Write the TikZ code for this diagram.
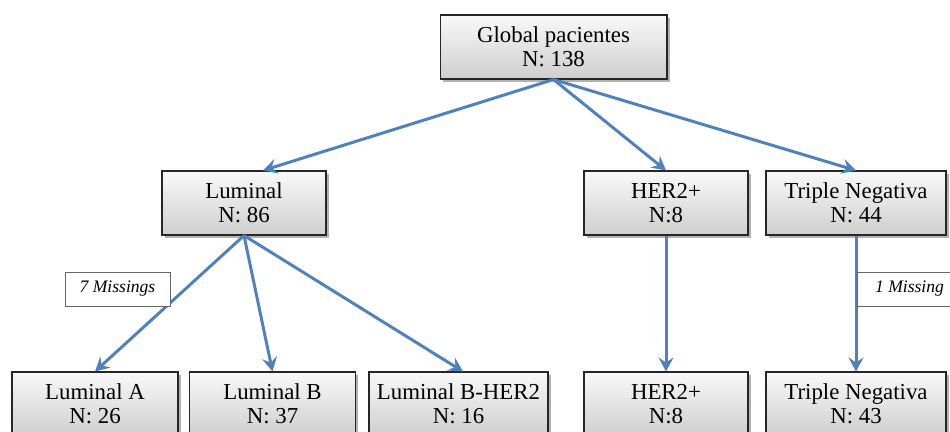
\documentclass[tikz,border=0pt]{standalone}
\usepackage{fontspec}
\setmainfont{Liberation Serif}
\usetikzlibrary{arrows.meta,shadows}
\definecolor{arrowblue}{RGB}{79,129,189}

\begin{document}
\begin{tikzpicture}[x=0.02cm,y=-0.02cm]
  \tikzstyle{group}=[draw=black!85,line width=0.6pt,top color=gray!5,bottom color=gray!38,minimum height=1.28cm,align=center,font=\fontsize{13}{13.6}\selectfont,drop shadow={shadow xshift=1.5pt,shadow yshift=-1.5pt,fill=black!60}]
  \tikzstyle{missing}=[draw=black!60,line width=0.4pt,fill=white,minimum width=2.1cm,minimum height=0.68cm,font=\fontsize{10}{12}\selectfont\itshape]
  \tikzstyle{link}=[arrowblue,line width=1.7pt,-{Stealth[length=0.28cm,width=0.3cm,inset=0.1cm]}]
  \useasboundingbox (0,0) rectangle (950,432);
  \node[group,minimum width=4.54cm] (G_all) at (553.5,47) {Global pacientes\\N: 138};
  \node[group,minimum width=3.28cm] (G_lum) at (244,203) {Luminal\\N: 86};
  \node[group,minimum width=3.28cm] (G_her) at (666,203) {HER2+\\N:8};
  \node[group,minimum width=3.6cm] (G_tn) at (856,203) {Triple Negativa\\N: 44};
  \node[group,minimum width=3.32cm] (G_la) at (95,404) {Luminal A\\N: 26};
  \node[group,minimum width=3.32cm] (G_lb) at (272.5,404) {Luminal B\\N: 37};
  \node[group,minimum width=3.58cm] (G_lbh) at (458.5,404) {Luminal B-HER2\\N: 16};
  \node[group,minimum width=3.28cm] (G_her2) at (666,404) {HER2+\\N:8};
  \node[group,minimum width=3.6cm] (G_tn2) at (856,404) {Triple Negativa\\N: 43};
  \draw[link] (G_all.south) -- ([xshift=0.38cm]G_lum.north);
  \draw[link] (G_all.south) -- (G_her.north);
  \draw[link] (G_all.south) -- (G_tn.north);
  \draw[link] (G_lum.south) -- (G_la.north);
  \draw[link] (G_lum.south) -- (G_lb.north);
  \draw[link] (G_lum.south) -- ([xshift=0.09cm]G_lbh.north);
  \draw[link] (G_her.south) -- (G_her2.north);
  \draw[link] (G_tn.south) -- (G_tn2.north);
  \node[missing] (M_lum) at (117.5,289) {7 Missings};
  \node[missing] (M_tn) at (909.5,289) {1 Missing};
\end{tikzpicture}
\end{document}
